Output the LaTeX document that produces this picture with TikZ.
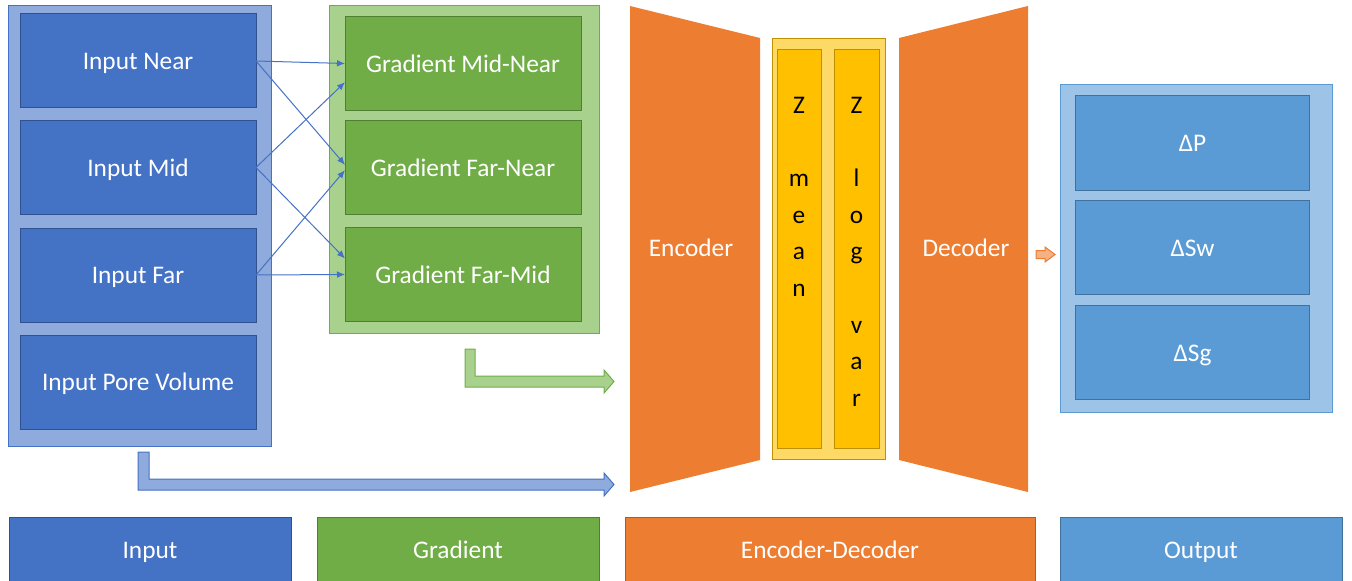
\documentclass[tikz,border=0pt]{standalone}
\usepackage{fontspec}
\setmainfont{Carlito}
\usetikzlibrary{arrows.meta}
\definecolor{inBlue}{HTML}{4472C4}
\definecolor{inDark}{HTML}{2F528F}
\definecolor{inLight}{HTML}{8FAADC}
\definecolor{grGreen}{HTML}{70AD47}
\definecolor{grDark}{HTML}{507E32}
\definecolor{grLight}{HTML}{A9D18E}
\definecolor{edOrange}{HTML}{ED7D31}
\definecolor{edDark}{HTML}{AE5A21}
\definecolor{edLight}{HTML}{F4B183}
\definecolor{zYellow}{HTML}{FFC000}
\definecolor{zDark}{HTML}{BF9000}
\definecolor{zLight}{HTML}{FFD966}
\definecolor{outBlue}{HTML}{5B9BD5}
\definecolor{outDark}{HTML}{41719C}
\definecolor{outLight}{HTML}{9DC3E6}

\begin{document}
\begin{tikzpicture}
[%%%%%%%%%%%%%%%%%%%%%%%%%%%%%%
x=0.75pt,y=-0.75pt,
every node/.style={font=\fontsize{19}{23}\selectfont,inner sep=0pt,outer sep=0pt},
box/.style={rectangle,line width=0.75pt,text=white,minimum width=177pt,minimum height=70.5pt,text height=13pt,text depth=0pt},
inbox/.style={box,draw=inDark,fill=inBlue},
grbox/.style={box,draw=grDark,fill=grGreen,minimum height=70pt},
outbox/.style={box,draw=outDark,fill=outBlue,minimum width=176pt},
frame/.style={rectangle,line width=0.75pt},
zbox/.style={rectangle,line width=0.75pt,draw=zDark,fill=zYellow,minimum height=298.5pt},
ztext/.style={anchor=north,align=center,font=\fontsize{19}{27.5}\selectfont},
legend/.style={rectangle,line width=0.75pt,text=white,minimum height=49.5pt,text height=13pt,text depth=0pt},
link/.style={draw=inBlue,line width=0.75pt,-{Latex[length=6pt,width=5pt]}},
]%%%%%%%%%%%%%%%%%%%%%%%%%%%%%%
\useasboundingbox (0,0) rectangle (1352,581);
% groups
\node[frame,draw=inBlue,fill=inLight,minimum width=197.25pt,minimum height=330pt] (inframe) at (139.5,226){};
\node[frame,draw=grGreen,fill=grLight,minimum width=202.5pt,minimum height=245.25pt] (grframe) at (464,169.5){};
\node[frame,draw=outBlue,fill=outLight,minimum width=204pt,minimum height=245.25pt] (outframe) at (1196,248.5){};
\node[frame,draw=zDark,fill=zLight,minimum width=84.75pt,minimum height=315pt] (zframe) at (828.5,249){};
% boxes
\foreach \y/\n/\t in {61/in1/Input Near,167.5/in2/Input Mid,275/in3/Input Far,382/in4/Input Pore Volume}
\node[inbox] (\n) at (138,\y){\t};
\foreach \y/\n/\t in {63.5/gr1/Gradient Mid-Near,167.5/gr2/Gradient Far-Near,274.5/gr3/Gradient Far-Mid}
\node[grbox] (\n) at (463,\y){\t};
\foreach \y/\n/\t in {143/out1/ΔP,247.5/out2/ΔSw,352.5/out3/ΔSg}
\node[outbox] (\n) at (1192.5,\y){\t};
% encoder / decoder
\fill[edOrange] (630,6) -- (760,38) -- (760,460) -- (630,492) -- cycle;
\fill[edOrange] (899,38) -- (1028,6) -- (1028,492) -- (899,460) -- cycle;
\node[text=white] (enc) at (691,248){Encoder};
\node[text=white] (dec) at (966,248){Decoder};
\node[zbox,minimum width=33pt] (zmean) at (799,249){};
\node[zbox,minimum width=33.75pt] (zvar) at (856.5,249){};
\node[ztext] (zmeantxt) at (799,97){Z\\[27.5pt]m\\e\\a\\n};
\node[ztext] (zvartxt) at (856.5,97){Z\\[27.5pt]l\\o\\g\\[27.5pt]v\\a\\r};
% links
\foreach \a/\b/\s in {in1/gr1/0,in1/gr2/2,in2/gr1/-14,in2/gr3/12,in3/gr2/-2,in3/gr3/0}
\draw[link] (\a.east) -- ([yshift=\s pt]\b.west);
% block arrows
\filldraw[fill=grLight,draw=grGreen,line width=0.75pt] (465,349) -- (475,349) -- (475,376) -- (604,376) -- (604,370) -- (614,381.5) -- (604,393) -- (604,387) -- (465,387) -- cycle;
\filldraw[fill=inLight,draw=inBlue,line width=0.75pt] (138,452) -- (149,452) -- (149,479) -- (604,479) -- (604,473) -- (614,484.5) -- (604,496) -- (604,490) -- (138,490) -- cycle;
\filldraw[fill=edLight,draw=edOrange,line width=0.75pt] (1036,250.5) -- (1045,250.5) -- (1045,247) -- (1055,254.5) -- (1045,262) -- (1045,258.5) -- (1036,258.5) -- cycle;
% legend
\node[legend,draw=inDark,fill=inBlue,minimum width=211.5pt] (leg1) at (150,550){Input};
\node[legend,draw=grDark,fill=grGreen,minimum width=211.5pt] (leg2) at (458,550){Gradient};
\node[legend,draw=edDark,fill=edOrange,minimum width=307.5pt] (leg3) at (830,550){Encoder-Decoder};
\node[legend,draw=outDark,fill=outBlue,minimum width=211.5pt] (leg4) at (1201,550){Output};
\end{tikzpicture}
\end{document}
